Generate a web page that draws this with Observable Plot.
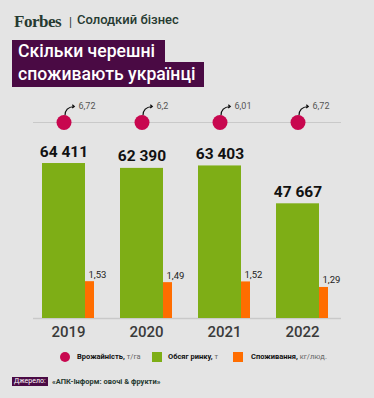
<!DOCTYPE html>
<html>
<head>
<meta charset="utf-8">
<script src="https://cdn.jsdelivr.net/npm/d3@7"></script>
<script src="https://cdn.jsdelivr.net/npm/@observablehq/plot@0.6"></script>
<style>
  html, body { margin: 0; padding: 0; }
  body { width: 374px; height: 398px; background: #e4e4e4; position: relative; overflow: hidden; font-family: Roboto, "Noto Sans", sans-serif; }
  .abs { position: absolute; white-space: nowrap; }
  #forbes { left: 14px; top: 12px; font-family: "Liberation Serif", "DejaVu Serif", serif; font-weight: 700; font-size: 17px; color: #263a31; letter-spacing: -0.5px; }
  #sep { left: 69px; top: 15px; font-size: 12px; color: #263a31; }
  #rubric { left: 77px; top: 12px; font-size: 13px; font-weight: 500; color: #263a31; }
  .tline { background: #4a0a44; color: #fff; font-size: 17.6px; font-weight: 500; padding: 0 9px 0 6px; }
  #t1 { left: 12px; top: 40px; height: 22px; line-height: 23px; padding-right: 10px; }
  #t2 { left: 12px; top: 62px; height: 25px; line-height: 24px; }
  #chart { position: absolute; left: 0; top: 90px; }
  .leg { top: 351px; font-size: 7.5px; line-height: 12px; color: #111; }
  .leg b { font-weight: 700; }
  .leg span.u { color: #666; }
  .sw { position: absolute; top: 352px; width: 10px; height: 10px; }
  #src1 { left: 12px; top: 377px; height: 9px; background: #4a0a44; color: #fff; font-size: 7px; line-height: 9px; padding: 0 2px; }
  #src2 { left: 52px; top: 376px; font-size: 7.5px; line-height: 11px; font-weight: 700; color: #263a31; }
</style>
</head>
<body>
<div class="abs" id="forbes">Forbes</div>
<div class="abs" id="sep">|</div>
<div class="abs" id="rubric">Солодкий бізнес</div>
<div class="abs tline" id="t1">Скільки черешні</div>
<div class="abs tline" id="t2">споживають українці</div>
<div id="chart"></div>

<div class="sw" style="left:60px;border-radius:50%;background:#c8074f;"></div>
<div class="abs leg" style="left:77px;"><b>Врожайність,</b> <span class="u">т/га</span></div>
<div class="sw" style="left:152px;background:#7eae16;"></div>
<div class="abs leg" style="left:168px;"><b>Обсяг ринку,</b> <span class="u">т</span></div>
<div class="sw" style="left:233px;background:#ff6d00;"></div>
<div class="abs leg" style="left:251px;"><b>Споживання,</b> <span class="u">кг/люд.</span></div>

<div class="abs" id="src1">Джерело:</div>
<div class="abs" id="src2">«АПК-Інформ: овочі &amp; фрукти»</div>

<script>
// ---- data ----
const years = ["2019", "2020", "2021", "2022"];
const yieldValues = [6.72, 6.2, 6.01, 6.72];          // т/га
const marketValues = [64411, 62390, 63403, 47667];    // т
const consumptionValues = [1.53, 1.49, 1.52, 1.29];   // кг/люд.
const yieldLabels = ["6,72", "6,2", "6,01", "6,72"];
const marketLabels = ["64 411", "62 390", "63 403", "47 667"];
const consumptionLabels = ["1,53", "1,49", "1,52", "1,29"];

// secondary-axis factor: consumption is drawn on the market scale
const consumptionScale = 10000;
const yMax = 81460;

const table = years.map((year, i) => ({
  year,
  yield: yieldValues[i],
  market: marketValues[i],
  cons: consumptionValues[i] * consumptionScale,
  yieldLabel: yieldLabels[i],
  marketLabel: marketLabels[i],
  consLabel: consumptionLabels[i]
}));

// cherry stem as a custom symbol
const stem = {
  draw(ctx) {
    ctx.moveTo(1, -7);
    ctx.bezierCurveTo(1, -12, 4, -15.5, 10, -16);
    ctx.moveTo(8.3, -17.8);
    ctx.lineTo(10.3, -16);
    ctx.lineTo(8.3, -14.4);
  }
};

const chart = Plot.plot({
  width: 374,
  height: 256,
  marginTop: 32,
  marginBottom: 28,
  marginLeft: 41,
  marginRight: 46,
  style: { background: "none", fontFamily: "Roboto, sans-serif", overflow: "visible" },
  x: { type: "band", domain: years, paddingInner: 0.336, paddingOuter: 0 },
  y: { domain: [0, yMax], axis: null },
  marks: [
    Plot.ruleY([yMax], { stroke: "#c9c9c9", strokeWidth: 1, insetLeft: -8, insetRight: -13 }),
    Plot.ruleY([0], { stroke: "#c9c9c9", strokeWidth: 1.5, insetLeft: -8, insetRight: -13 }),
    Plot.barY(table, { x: "year", y: "market", fill: "#7eae16", insetRight: 9 }),
    Plot.barY(table, { x: "year", y: "cons", fill: "#ff6d00", insetLeft: 43 }),
    Plot.text(table, { x: "year", y: "market", text: "marketLabel", dx: -4.5, dy: -7, lineAnchor: "bottom", fontSize: 15.5, fontWeight: 700, fill: "#111" }),
    Plot.text(table, { x: "year", y: "cons", text: "consLabel", dx: 20, dy: -4, textAnchor: "start", lineAnchor: "bottom", fontSize: 9.5, fill: "#222" }),
    Plot.dot(table, { x: "year", frameAnchor: "top", dx: -4.5, symbol: stem, r: 5, stroke: "#111", fill: "none", strokeWidth: 1.2 }),
    Plot.dot(table, { x: "year", frameAnchor: "top", dx: -4.5, r: 7.5, fill: "#c8074f" }),
    Plot.text(table, { x: "year", frameAnchor: "top", text: "yieldLabel", dx: 10, dy: -14, textAnchor: "start", lineAnchor: "bottom", fontSize: 9, fill: "#555" }),
    Plot.axisX({ tickSize: 0, tickPadding: 8, fontSize: 15, fontWeight: 500, color: "#3a3a3a", label: null })
  ]
});
document.getElementById("chart").appendChild(chart);
</script>
</body>
</html>
